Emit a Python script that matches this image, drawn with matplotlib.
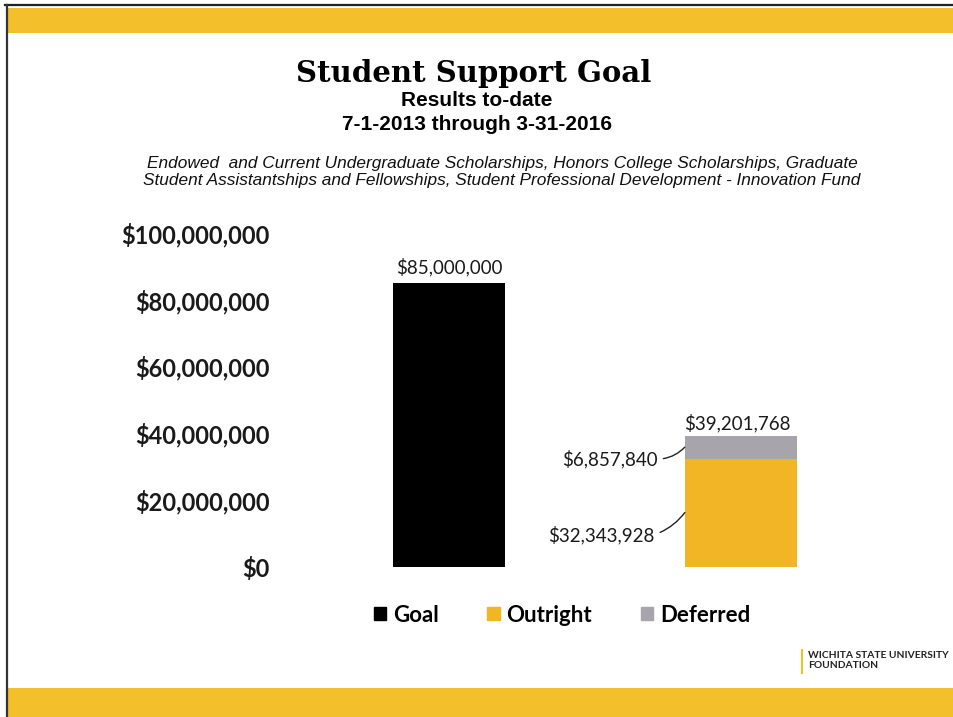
import matplotlib
matplotlib.use("Agg")
import matplotlib.pyplot as plt
from matplotlib.patches import Rectangle, Patch
from matplotlib.lines import Line2D

# values for the student support campaign
goal_value = 85000000
outright_value = 32343928
deferred_value = 6857840
total_value = outright_value + deferred_value
positions = [0, 1]
yticks = [0, 20000000, 40000000, 60000000, 80000000, 100000000]
legend_names = ['Goal', 'Outright', 'Deferred']

GOLD = '#F3BF2A'
ORANGE = '#F2B526'
GRAY = '#A8A4AC'

def money(v):
    return '${:,.0f}'.format(v)

plt.rcParams['font.family'] = ['Lato', 'DejaVu Sans']

W, H = 954, 717
fig = plt.figure(figsize=(W / 100, H / 100), dpi=100)

def fx(px):
    return px / W

def fy(py):
    return 1 - py / H

# slide frame: yellow bands and dark edges
fig.add_artist(Rectangle((fx(8), fy(33)), 1, fy(8) - fy(33), transform=fig.transFigure,
                         color=GOLD, lw=0))
fig.add_artist(Rectangle((fx(8), 0), 1, fy(688), transform=fig.transFigure,
                         color=GOLD, lw=0))
fig.add_artist(Line2D([fx(5), 1], [fy(5), fy(5)], transform=fig.transFigure,
                      color='#222222', lw=1.6))
fig.add_artist(Line2D([fx(7), fx(7)], [0, fy(5)], transform=fig.transFigure,
                      color='#333333', lw=1.6))

# titles
fig.text(0.497, fy(73), 'Student Support Goal', ha='center', va='center',
         family='DejaVu Serif', weight='bold', fontsize=21)
fig.text(0.5, fy(101), 'Results to-date', ha='center', va='center',
         family='Liberation Sans', weight='bold', fontsize=15)
fig.text(0.5, fy(125), '7-1-2013 through 3-31-2016', ha='center', va='center',
         family='Liberation Sans', weight='bold', fontsize=15)
fig.text(fx(502), fy(172),
         'Endowed  and Current Undergraduate Scholarships, Honors College Scholarships, Graduate\n'
         'Student Assistantships and Fellowships, Student Professional Development - Innovation Fund',
         ha='center', va='center', family='Liberation Sans', style='italic',
         fontsize=12.4, linespacing=1.2, color='#111111')

# chart area
ax = fig.add_axes([fx(303), fy(566.5), fx(887) - fx(303), fy(233) - fy(566.5)])
bw = 0.385
ax.bar(positions[0], goal_value, bw, color='black')
ax.bar(positions[1], outright_value, bw, color=ORANGE)
ax.bar(positions[1], deferred_value, bw, bottom=outright_value, color=GRAY)

ax.set_xlim(-0.5, 1.5)
ax.set_ylim(0, 100000000)
ax.set_xticks([])
ax.set_yticks(yticks)
ax.set_yticklabels([money(v) for v in yticks], fontsize=17, weight='bold', color='#1a1a1a')
ax.tick_params(axis='y', length=0, pad=24)
for s in ax.spines.values():
    s.set_visible(False)
ax.patch.set_alpha(0)

# value labels
ax.annotate(money(goal_value), xy=(positions[0], goal_value), xytext=(0, 7),
            textcoords='offset pixels', ha='center', va='bottom', fontsize=13.5, color='#1a1a1a')
ax.annotate(money(total_value), xy=(positions[1], total_value), xytext=(-4, 3),
            textcoords='offset pixels', ha='center', va='bottom', fontsize=13.5, color='#1a1a1a')
ax.annotate(money(deferred_value), xy=(positions[1] - bw / 2, outright_value + deferred_value / 2),
            xytext=(-27, -12), textcoords='offset pixels', ha='right', va='center',
            fontsize=13.5, color='#1a1a1a',
            arrowprops=dict(arrowstyle='-', color='#222222', lw=1, relpos=(1, 0.5),
                            shrinkA=2, shrinkB=0, connectionstyle='arc3,rad=0.2'))
ax.annotate(money(outright_value), xy=(positions[1] - bw / 2, outright_value / 2),
            xytext=(-30, -22), textcoords='offset pixels', ha='right', va='center',
            fontsize=13.5, color='#1a1a1a',
            arrowprops=dict(arrowstyle='-', color='#222222', lw=1, relpos=(1, 0.5),
                            shrinkA=2, shrinkB=0, connectionstyle='arc3,rad=0.15'))

handles = [Patch(color=c) for c in ['black', ORANGE, GRAY]]
fig.legend(handles, legend_names, loc='center', bbox_to_anchor=(fx(562), fy(615)), ncol=3,
           frameon=False, handlelength=0.55, handleheight=0.55, handletextpad=0.3,
           columnspacing=2.2, prop=dict(family='Lato', weight='bold', size=16))

# foundation mark in the corner
fig.add_artist(Line2D([fx(802), fx(802)], [fy(673), fy(650)], transform=fig.transFigure,
                      color=GOLD, lw=1.5))
fig.text(fx(808), fy(655), 'WICHITA STATE UNIVERSITY', ha='left', va='center',
         fontsize=7.4, weight='bold', color='#222222')
fig.text(fx(808), fy(665), 'FOUNDATION', ha='left', va='center',
         fontsize=7.4, weight='bold', color='#222222')

fig.savefig('out.png', dpi=100)
